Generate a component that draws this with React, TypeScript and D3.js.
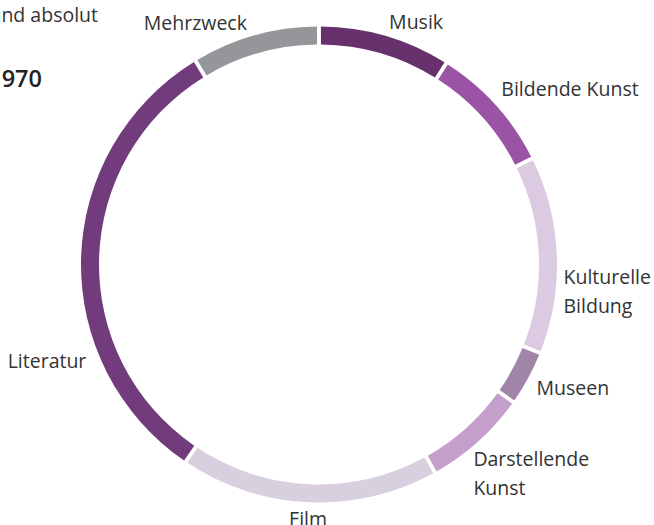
import React, { useEffect, useRef } from "react";
import * as d3 from "d3";

// Sparten (im Uhrzeigersinn ab 12 Uhr)
const categories = [
	"Musik",
	"Bildende Kunst",
	"Kulturelle Bildung",
	"Museen",
	"Darstellende Kunst",
	"Film",
	"Literatur",
	"Mehrzweck",
];
// Anteile in %
const shares = [8.9, 8.6, 13.4, 3.6, 7.0, 17.6, 32.1, 8.6];
const colors = ["#66316c", "#9b53a5", "#dccae3", "#a185a9", "#c59fcb", "#d8cfdf", "#723b7b", "#959699"];
// Beschriftung: Zeilenumbrüche, kleine Winkelverschiebung (Grad) und Radiuskorrektur
const labelLines = [["Musik"], ["Bildende Kunst"], ["Kulturelle", "Bildung"], ["Museen"], ["Darstellende", "Kunst"], ["Film"], ["Literatur"], ["Mehrzweck"]];
const labelShift = [0, -1.8, 8.6, 1, 5.5, 0, -24, -1];
const labelDr = [0, 1, -6, -2, 8, 3, 0, 0];

const W = 654;
const H = 525;

export default function App() {
	const svgRef = useRef<SVGSVGElement>(null);

	useEffect(() => {
		const svg = d3.select(svgRef.current);
		svg.selectAll("*").remove();

		const cx = 319;
		const cy = 264.5;
		const outer = 238;
		const inner = 220;
		const font = "'Open Sans', sans-serif";

		const data = categories.map((c, i) => ({ name: c, value: shares[i], i }));
		const pie = d3
			.pie<any>()
			.sort(null)
			.value((d) => d.value)
			.padAngle(0.012);
		const arcs = pie(data);

		const arc = d3.arc<any>().innerRadius(inner).outerRadius(outer);

		const g = svg.append("g").attr("transform", `translate(${cx},${cy})`);

		g.selectAll("path.seg")
			.data(arcs)
			.join("path")
			.attr("class", "seg")
			.attr("d", arc)
			.attr("fill", (d) => colors[d.data.i]);

		// Beschriftungen
		const labelR = 252;
		const lineH = 29;
		g.selectAll("text.lab")
			.data(arcs)
			.join("text")
			.attr("class", "lab")
			.attr("font-family", font)
			.attr("font-size", 19.5)
			.attr("fill", "#333")
			.each(function (d) {
				const a = (d.startAngle + d.endAngle) / 2 + (labelShift[d.data.i] * Math.PI) / 180;
				const r = labelR + labelDr[d.data.i];
				const x = Math.sin(a) * r;
				const y = -Math.cos(a) * r;
				const s = Math.sin(a);
				const anchor = Math.abs(s) < 0.15 ? "middle" : s > 0 ? "start" : "end";
				const lines = labelLines[d.data.i];
				const t = d3.select(this).attr("text-anchor", anchor);
				const y0 = y - ((lines.length - 1) * lineH) / 2 + 7;
				lines.forEach((l, k) => {
					t.append("tspan").attr("x", x).attr("y", y0 + k * lineH).text(l);
				});
			});

		// abgeschnittener Titel oben links
		svg.append("text")
			.attr("x", 98)
			.attr("y", 22)
			.attr("text-anchor", "end")
			.attr("font-family", font)
			.attr("font-size", 19.5)
			.attr("fill", "#333")
			.text("und absolut");
		svg.append("text")
			.attr("x", 42)
			.attr("y", 87)
			.attr("text-anchor", "end")
			.attr("font-family", font)
			.attr("font-size", 23.5)
			.attr("font-weight", 600)
			.attr("fill", "#222")
			.text("1970");
	}, []);

	return (
		<svg
			ref={svgRef}
			width={W}
			height={H}
			style={{ position: "absolute", left: 0, top: 0, background: "#fff" }}
		></svg>
	);
}
